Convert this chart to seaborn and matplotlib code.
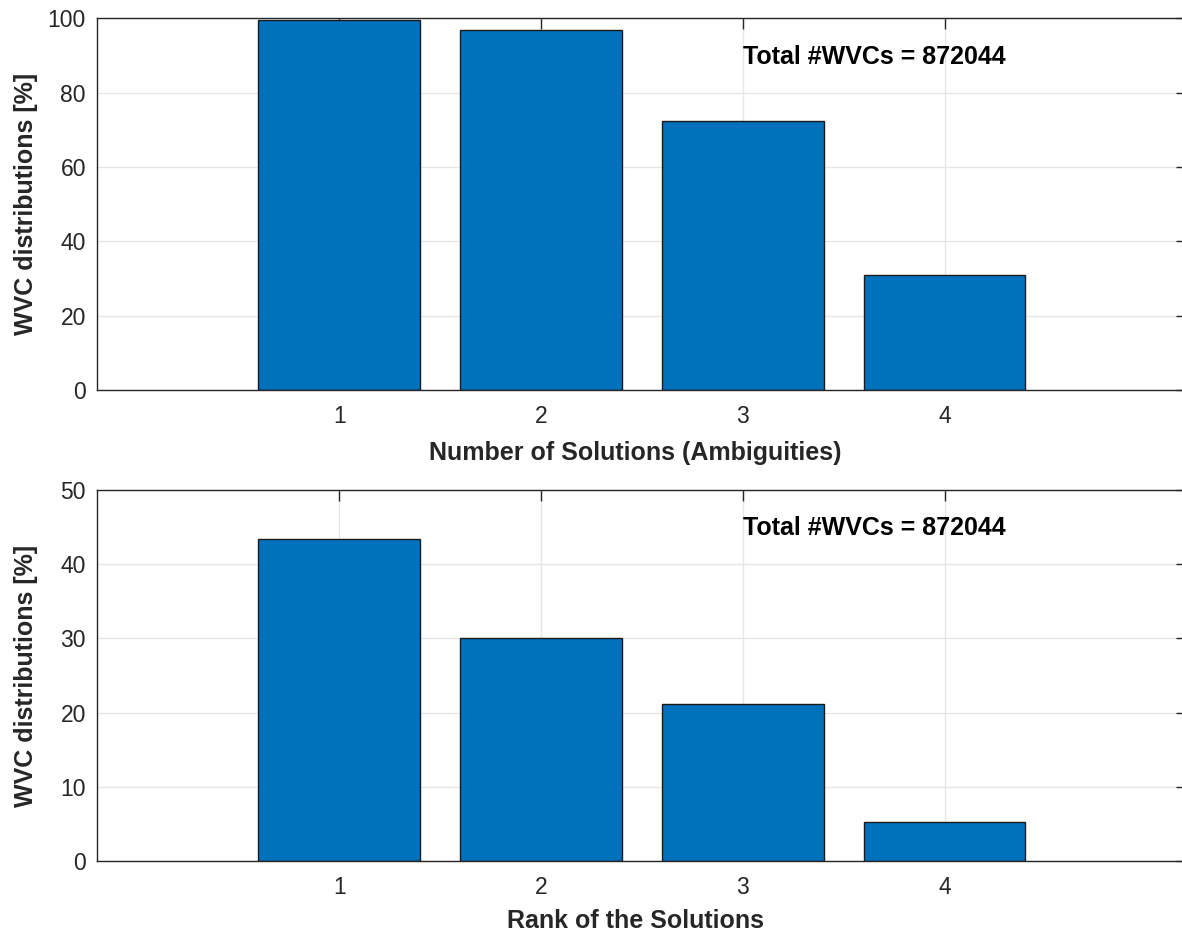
import matplotlib
matplotlib.use("Agg")
import matplotlib.pyplot as plt
import seaborn as sns
import pandas as pd

# Distribution of wind vector cells by number of ambiguities and by solution rank
n_solutions = [1, 2, 3, 4]
pct_by_n_solutions = [99.7, 96.8, 72.4, 31.0]

solution_rank = [1, 2, 3, 4]
pct_by_rank = [43.4, 30.1, 21.1, 5.3]

total_wvcs = 872044
annotation = f"Total #WVCs = {total_wvcs}"

sns.set_theme(style="white")
plt.rcParams["font.family"] = ["Liberation Sans", "DejaVu Sans"]

BAR_COLOR = "#0072BD"
AX_COLOR = "#262626"
GRID_COLOR = "#e6e6e6"
TICK_FS = 16.5
LABEL_FS = 18

fig = plt.figure(figsize=(11.82, 9.34), dpi=100)
ax_top = fig.add_axes([0.0821, 0.5824, 0.922, 0.3978])
ax_bot = fig.add_axes([0.0821, 0.0782, 0.922, 0.3972])

panels = [
    (ax_top, n_solutions, pct_by_n_solutions, "Number of Solutions (Ambiguities)",
     (0, 100), [0, 20, 40, 60, 80, 100], 89.6, -0.138),
    (ax_bot, solution_rank, pct_by_rank, "Rank of the Solutions",
     (0, 50), [0, 10, 20, 30, 40, 50], 44.9, -0.130),
]

for ax, xs, ys, xlabel, ylim, yticks, text_y, xlab_y in panels:
    df = pd.DataFrame({"x": xs, "y": ys})
    sns.barplot(data=df, x="x", y="y", native_scale=True, width=0.8,
                color=BAR_COLOR, saturation=1, edgecolor="#1a1a1a",
                linewidth=1.0, ax=ax, zorder=2)
    ax.set_xlim(-0.2, 5.2)
    ax.set_ylim(*ylim)
    ax.set_xticks(xs)
    ax.set_xticklabels([str(v) for v in xs])
    ax.set_yticks(yticks)
    ax.set_axisbelow(True)
    ax.grid(True, color=GRID_COLOR, linewidth=1.0)
    ax.tick_params(direction="in", length=8, width=1.0, colors=AX_COLOR,
                   labelsize=TICK_FS, top=True, right=True)
    ax.tick_params(axis="x", pad=11)
    ax.tick_params(axis="y", pad=8)
    for s in ax.spines.values():
        s.set_visible(True)
        s.set_color(AX_COLOR)
        s.set_linewidth(1.0)
        s.set_zorder(5)
    ax.set_xlabel(xlabel, fontsize=LABEL_FS, fontweight="bold", color=AX_COLOR)
    ax.set_ylabel("WVC distributions [%]", fontsize=LABEL_FS, fontweight="bold", color=AX_COLOR)
    ax.xaxis.set_label_coords(0.494, xlab_y)
    ax.yaxis.set_label_coords(-0.054, 0.5)
    ax.text(3, text_y, annotation, fontsize=LABEL_FS, fontweight="bold", color="black",
            ha="left", va="center", zorder=6)

fig.savefig("out.png", dpi=100)
